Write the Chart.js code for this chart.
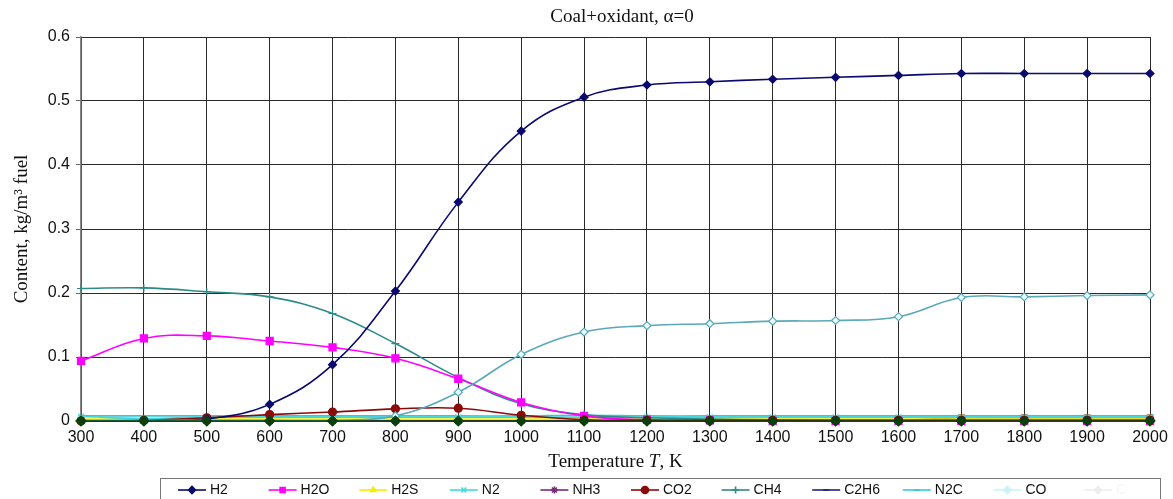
<!DOCTYPE html>
<html>
<head>
<meta charset="utf-8">
<script src="https://cdn.jsdelivr.net/npm/chart.js@4.4.1/dist/chart.umd.min.js"></script>
<style>
  html, body { margin: 0; padding: 0; background: #fff; }
  #wrap { width: 1173px; height: 499px; position: relative; }
</style>
</head>
<body>
<div id="wrap"><canvas id="chart"></canvas></div>
<script>
  // Temperature, K
  const temps = [300, 400, 500, 600, 700, 800, 900, 1000, 1100, 1200, 1300, 1400, 1500, 1600, 1700, 1800, 1900, 2000];

  // Content, kg/m3 fuel
  const h2   = [0, 0, 0.003, 0.026, 0.088, 0.203, 0.342, 0.453, 0.506, 0.525, 0.530, 0.534, 0.537, 0.540, 0.543, 0.543, 0.543, 0.543];
  const h2o  = [0.094, 0.129, 0.133, 0.125, 0.115, 0.098, 0.066, 0.029, 0.008, 0.002, 0.001, 0, 0, 0, 0, 0, 0, 0];
  const h2s  = [0.003, 0.003, 0.003, 0.003, 0.003, 0.003, 0.003, 0.003, 0.003, 0.003, 0.003, 0.003, 0.003, 0.003, 0.003, 0.003, 0.003, 0.003];
  const n2   = [0.007, 0.004, 0.006, 0.006, 0.006, 0.006, 0.006, 0.006, 0.006, 0.006, 0.006, 0.006, 0.006, 0.006, 0.006, 0.006, 0.006, 0.006];
  const nh3  = [0, 0, 0, 0, 0, 0, 0, 0, 0, 0, 0, 0, 0, 0, 0, 0, 0, 0];
  const co2  = [0, 0.001, 0.005, 0.010, 0.014, 0.019, 0.020, 0.009, 0.002, 0.001, 0.001, 0.001, 0.001, 0.001, 0.001, 0.001, 0.001, 0.001];
  const ch4  = [0.207, 0.208, 0.202, 0.194, 0.168, 0.121, 0.068, 0.027, 0.010, 0.005, 0.003, 0.002, 0.001, 0.001, 0.001, 0.001, 0.001, 0.001];
  const c2h6 = [0, 0, 0, 0, 0, 0, 0, 0, 0, 0, 0, 0, 0, 0, 0, 0, 0, 0];
  const n2c  = [0.008, 0.008, 0.008, 0.008, 0.008, 0.008, 0.008, 0.008, 0.009, 0.008, 0.008, 0.008, 0.008, 0.008, 0.008, 0.008, 0.008, 0.008];
  const co   = [0.001, 0.001, 0.001, 0.001, 0.001, 0.008, 0.045, 0.104, 0.139, 0.149, 0.152, 0.156, 0.157, 0.163, 0.193, 0.194, 0.196, 0.197];
  const cs   = [0.001, 0.001, 0.001, 0.001, 0.001, 0.001, 0.001, 0.001, 0.001, 0.001, 0.001, 0.001, 0.001, 0.001, 0.005, 0.005, 0.005, 0.005];
  const cSolid = [0, 0, 0, 0, 0, 0, 0, 0, 0, 0, 0, 0, 0, 0, 0, 0, 0, 0];

  const yTicks = [0, 0.1, 0.2, 0.3, 0.4, 0.5, 0.6];

  function pts(vals) { return vals.map((v, i) => ({ x: temps[i], y: v })); }

  function series(label, vals, color, style, radius, fill, order, legend) {
    return {
      label, data: pts(vals), borderColor: color, backgroundColor: fill || color,
      pointStyle: style, pointRadius: radius, pointBorderColor: color,
      pointBackgroundColor: fill || color, pointBorderWidth: 1.2,
      borderWidth: 1.6, tension: 0.4, order, clip: 8, legendShow: legend !== false,
    };
  }

  const datasets = [
    series("H2", h2, "#0a0a6e", "rectRot", 4, null, 2),
    series("H2O", h2o, "#ff00ff", "rect", 5, null, 4),
    series("H2S", h2s, "#f0f000", "triangle", 3, null, 9),
    series("N2", n2, "#3fd8e0", "crossRot", 4, null, 6),
    series("NH3", nh3, "#7a2a7a", "star", 4, null, 8),
    series("CO2", co2, "#8b0a0a", "circle", 4, null, 3),
    series("CH4", ch4, "#2e8a88", "cross", 4, null, 5),
    series("C2H6", c2h6, "#202080", "line", 3, null, 10),
    series("N2C", n2c, "#33c8d8", "line", 3, null, 7),
    series("CO", co, "#5aa8b8", "rectRot", 4, "#e8fbff", 1),
    series("C", cSolid, "#0b3f0b", "rectRot", 5, null, 0),
    series("", cs, "#9a5a20", "rect", 4, null, 11, false),
  ];

  const legendColors = ["#0a0a6e", "#ff00ff", "#f0f000", "#3fd8e0", "#7a2a7a", "#8b0a0a", "#2e8a88", "#202080", "#33c8d8", "#c8f4f8", "#eeeeee"];

  const PLOT = { left: 81, right: 1150, top: 37, bottom: 421 };

  const decor = {
    id: "decor",
    afterDraw(chart) {
      const ctx = chart.ctx;
      ctx.save();
      // title
      ctx.fillStyle = "#111";
      ctx.textAlign = "center";
      ctx.textBaseline = "middle";
      ctx.font = "19px 'Liberation Serif', serif";
      ctx.fillText("Coal+oxidant, \u03b1=0", 622, 17);

      // x title with italic T
      const cx = (PLOT.left + PLOT.right) / 2, ty = 462;
      const p1 = "Temperature ", p2 = "T", p3 = ", K";
      ctx.font = "19px 'Liberation Serif', serif";
      const w1 = ctx.measureText(p1).width, w3 = ctx.measureText(p3).width;
      ctx.font = "italic 19px 'Liberation Serif', serif";
      const w2 = ctx.measureText(p2).width;
      let x = cx - (w1 + w2 + w3) / 2;
      ctx.textAlign = "left";
      ctx.font = "19px 'Liberation Serif', serif";
      ctx.fillText(p1, x, ty); x += w1;
      ctx.font = "italic 19px 'Liberation Serif', serif";
      ctx.fillText(p2, x, ty); x += w2;
      ctx.font = "19px 'Liberation Serif', serif";
      ctx.fillText(p3, x, ty);

      // y title
      ctx.save();
      ctx.translate(22, 229);
      ctx.rotate(-Math.PI / 2);
      ctx.textAlign = "center";
      ctx.font = "19px 'Liberation Serif', serif";
      ctx.fillText("Content, kg/m\u00b3 fuel", 0, 0);
      ctx.restore();

      // legend box
      ctx.strokeStyle = "#777";
      ctx.lineWidth = 1;
      ctx.strokeRect(160.5, 478.5, 1000, 30);
      ctx.font = "14px 'Liberation Sans', Arial, sans-serif";
      ctx.textBaseline = "middle";
      let i = 0;
      chart.data.datasets.forEach((ds) => {
        if (!ds.legendShow) return;
        const lx = 178 + i * 90.6, ly = 490;
        const col = legendColors[i];
        ctx.strokeStyle = col;
        ctx.lineWidth = 1.6;
        ctx.beginPath(); ctx.moveTo(lx, ly); ctx.lineTo(lx + 28, ly); ctx.stroke();
        Chart.helpers.drawPoint(ctx, {
          pointStyle: ds.pointStyle, radius: Math.min(ds.pointRadius, 3.5), borderWidth: 1,
        }, lx + 14, ly);
        ctx.fillStyle = col;
        ctx.fill();
        ctx.fillStyle = i === 10 ? "#f6f6f6" : "#111";
        ctx.textAlign = "left";
        ctx.fillText(ds.label, lx + 32, ly);
        i++;
      });
      ctx.restore();
    },
  };

  new Chart(document.getElementById("chart"), {
    type: "line",
    data: { datasets },
    options: {
      responsive: true,
      maintainAspectRatio: false,
      animation: false,
      layout: { padding: { top: PLOT.top, right: 1173 - PLOT.right, left: 0, bottom: 0 } },
      plugins: { legend: { display: false }, tooltip: { enabled: false } },
      scales: {
        x: {
          type: "linear", min: 300, max: 2000,
          afterFit: (s) => { s.height = 499 - PLOT.bottom; },
          afterBuildTicks: (s) => { s.ticks = temps.map((v) => ({ value: v })); },
          ticks: { color: "#111", font: { family: "'Liberation Sans', Arial", size: 16 }, padding: 2, maxRotation: 0, autoSkip: false,
            callback: (v) => String(v) },
          grid: { color: "#2a2a2a", lineWidth: 1, tickLength: 5, tickColor: "#666" },
          border: { color: "#888", width: 1 },
        },
        y: {
          min: 0, max: 0.6,
          afterFit: (s) => { s.width = PLOT.left; },
          afterBuildTicks: (s) => { s.ticks = yTicks.map((v) => ({ value: v })); },
          ticks: { color: "#111", font: { family: "'Liberation Sans', Arial", size: 16 }, padding: 6,
            callback: (v) => (v === 0 ? "0" : v.toFixed(1)) },
          grid: { color: "#2a2a2a", lineWidth: 1, tickLength: 5, tickColor: "#666" },
          border: { color: "#888", width: 1.5 },
        },
      },
    },
    plugins: [decor],
  });
</script>
</body>
</html>
